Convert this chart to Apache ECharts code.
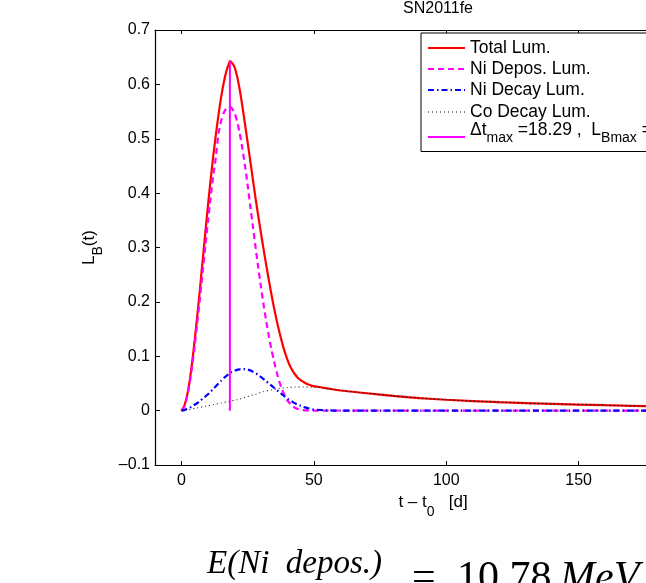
<!DOCTYPE html>
<html>
<head>
<meta charset="utf-8">
<script src="https://cdn.jsdelivr.net/npm/echarts@6/dist/echarts.min.js"></script>
<style>
html,body{margin:0;padding:0;background:#fff;}
#c{width:646px;height:583px;}
</style>
</head>
<body>
<div id="c"></div>
<script>
// ---- data ----
const tDays = [0,1,2,3,4,5,6,7,8,9,10,11,12,13,14,15,16,17,18,18.29,
  19,20,21,22,23,24,25,26,27,28,29,30,31,32,33,34,35,36,37,38,39,40,41,42,43,44,45,46,47,48,49,50,
  55,60,70,80,90,100,120,140,160,180,200];
const totalLum = [0,0.008,0.025,0.052,0.088,0.13,0.176,0.225,0.276,0.327,0.377,0.424,0.468,0.508,0.545,0.577,0.604,0.625,0.639,0.643,
  0.640,0.632,0.615,0.590,0.560,0.527,0.493,0.459,0.424,0.390,0.358,0.327,0.297,0.268,0.240,0.213,0.188,0.165,0.144,0.125,0.108,0.094,0.082,0.073,0.066,0.060,0.056,0.053,0.050,0.048,0.046,0.045,
  0.041,0.037,0.032,0.027,0.023,0.020,0.0155,0.0125,0.010,0.0078,0.006];
const niDepos = [0,0.007,0.023,0.048,0.081,0.12,0.163,0.208,0.255,0.302,0.348,0.392,0.432,0.467,0.51,0.533,0.548,0.556,0.558,0.558,
  0.556,0.548,0.532,0.51,0.482,0.45,0.414,0.376,0.338,0.30,0.263,0.228,0.195,0.165,0.137,0.112,0.09,0.07,0.053,0.039,0.028,0.019,0.013,0.008,0.005,0.003,0.002,0.001,0.0005,0,0,0,
  0,0,0,0,0,0,0,0,0,0,0];
const niDecay = [0,0.001,0.003,0.005,0.008,0.011,0.014,0.018,0.022,0.026,0.030,0.035,0.040,0.045,0.050,0.055,0.060,0.064,0.068,0.069,
  0.071,0.073,0.075,0.076,0.0765,0.0765,0.0755,0.074,0.0715,0.069,0.066,0.062,0.058,0.054,0.050,0.046,0.042,0.038,0.034,0.030,0.026,0.022,0.019,0.016,0.013,0.011,0.009,0.007,0.0055,0.004,0.003,0.002,
  0.0005,0,0,0,0,0,0,0,0,0,0];
const coDecay = [0,0.0005,0.001,0.002,0.003,0.004,0.005,0.006,0.007,0.008,0.009,0.010,0.011,0.012,0.013,0.014,0.015,0.016,0.017,0.0173,
  0.018,0.019,0.020,0.021,0.023,0.024,0.026,0.027,0.029,0.030,0.032,0.033,0.035,0.036,0.037,0.038,0.039,0.040,0.041,0.0415,0.042,0.0425,0.043,0.043,0.0435,0.0435,0.0435,0.0435,0.0435,0.043,0.043,0.043,
  0.0405,0.037,0.032,0.027,0.023,0.020,0.0155,0.0125,0.010,0.0078,0.006];
const tMax = 18.29;
const lBmax = 0.643;
const xTicks = [0, 50, 100, 150, 200];
const legendNames = ['Total Lum.', 'Ni Depos. Lum.', 'Ni Decay Lum.', 'Co Decay Lum.'];
const energyText = '10.78';

const zip = (xs, ys) => xs.map((x, i) => [x, ys[i]]);
const FONT = 'Liberation Sans, Arial, sans-serif';
const SERIF = 'Liberation Serif, serif';

const chart = echarts.init(document.getElementById('c'), null, {renderer: 'canvas'});

const fmtY = v => {
  const r = Math.round(v * 10) / 10;
  if (r === 0) return '0';
  return r.toFixed(1).replace('-', '\u2013');
};

const styles = [
  {color: '#ff0000', width: 2.2, type: 'solid'},
  {color: '#ff00ff', width: 2.2, type: [6, 4]},
  {color: '#0000ff', width: 2.2, type: [6, 3, 1.5, 3]},
  {color: '#000000', width: 1, type: [1, 3]}
];
const seriesData = [totalLum, niDepos, niDecay, coDecay];

const series = seriesData.map((ys, i) => ({
  type: 'line',
  name: legendNames[i],
  data: zip(tDays, ys),
  showSymbol: false,
  smooth: 0.25,
  lineStyle: styles[i],
  silent: true,
  z: 2 + i,
  animation: false
}));
series.push({
  type: 'line',
  name: 'dt',
  data: [[tMax, 0], [tMax, lBmax]],
  showSymbol: false,
  lineStyle: {color: '#ff00ff', width: 2},
  silent: true,
  z: 10,
  animation: false
});

// legend graphic
const legX = 421, legY = 33;
const legendChildren = [{
  type: 'rect',
  shape: {x: legX, y: legY, width: 260, height: 118.5},
  style: {fill: '#fff', stroke: '#000', lineWidth: 1},
  z: 100
}];
const legendRows = [48, 69, 90, 112, 130];
legendNames.forEach((n, i) => {
  legendChildren.push({
    type: 'line',
    shape: {x1: 428, y1: legendRows[i], x2: 465, y2: legendRows[i]},
    style: {stroke: styles[i].color, lineWidth: styles[i].width, lineDash: styles[i].type === 'solid' ? null : styles[i].type},
    z: 101
  });
  legendChildren.push({
    type: 'text',
    x: 470, y: legendRows[i],
    style: {text: n, font: '17.5px ' + FONT, fill: '#000', verticalAlign: 'middle', textAlign: 'left'},
    z: 101
  });
});
legendChildren.push({
  type: 'line',
  shape: {x1: 428, y1: 137, x2: 465, y2: 137},
  style: {stroke: '#ff00ff', lineWidth: 2},
  z: 101
});
legendChildren.push({
  type: 'text',
  x: 470, y: 130,
  style: {
    text: '{n|\u0394t}{s|max}{n| =' + tMax.toFixed(2) + ' ,  L}{s|Bmax}{n| =' + lBmax.toFixed(3) + '}',
    rich: {
      n: {fontSize: 17.5, fontFamily: FONT, fill: '#000', color: '#000'},
      s: {fontSize: 14, fontFamily: FONT, fill: '#000', color: '#000', padding: [16, 0, 0, 0]}
    },
    verticalAlign: 'middle', textAlign: 'left'
  },
  z: 101
});

const option = {
  animation: false,
  backgroundColor: '#fff',
  title: {
    text: 'SN2011fe',
    left: 433, top: -4, textAlign: 'center',
    textStyle: {fontFamily: FONT, fontSize: 16, fontWeight: 'normal', color: '#000'}
  },
  grid: {left: 155, top: 30, width: 556, height: 435, outerBoundsMode: 'none', containLabel: false},
  xAxis: [{
    type: 'value', min: -10, max: 200, position: 'bottom',
    axisLine: {show: true, onZero: false, lineStyle: {color: '#000', width: 1.2}},
    axisTick: {show: true, inside: true, length: 4, customValues: xTicks, lineStyle: {color: '#000'}},
    axisLabel: {show: true, customValues: xTicks, margin: 8, fontFamily: FONT, fontSize: 16, color: '#000'},
    splitLine: {show: false},
    name: '{n|t \u2013 t}{s|0}{n|   [d]}',
    nameLocation: 'middle', nameGap: 9,
    nameTextStyle: {
      rich: {
        n: {fontSize: 17, fontFamily: FONT, color: '#000'},
        s: {fontSize: 14, fontFamily: FONT, color: '#000', padding: [20, 0, 0, 0]}
      }
    }
  }, {
    type: 'value', min: -10, max: 200, position: 'top',
    axisLine: {show: true, onZero: false, lineStyle: {color: '#000', width: 1.2}},
    axisTick: {show: true, inside: true, length: 4, customValues: xTicks, lineStyle: {color: '#000'}},
    axisLabel: {show: false},
    splitLine: {show: false}
  }],
  yAxis: [{
    type: 'value', min: -0.1, max: 0.7, interval: 0.1, position: 'left',
    axisLine: {show: true, onZero: false, lineStyle: {color: '#000', width: 1.2}},
    axisTick: {show: true, inside: true, length: 5, lineStyle: {color: '#000'}},
    axisLabel: {formatter: fmtY, margin: 5, fontFamily: FONT, fontSize: 16, color: '#000'},
    splitLine: {show: false},
    name: '{n|L}{s|B}{n|(t)}',
    nameLocation: 'middle', nameGap: 50, nameRotate: 90,
    nameTextStyle: {
      rich: {
        n: {fontSize: 17, fontFamily: FONT, color: '#000'},
        s: {fontSize: 14, fontFamily: FONT, color: '#000', padding: [18, 0, 0, 0]}
      }
    }
  }, {
    type: 'value', min: -0.1, max: 0.7, interval: 0.1, position: 'right',
    axisLine: {show: true, onZero: false, lineStyle: {color: '#000', width: 1.2}},
    axisTick: {show: true, inside: true, length: 5},
    axisLabel: {show: false},
    splitLine: {show: false}
  }],
  series: series,
  graphic: [{
    type: 'group',
    children: legendChildren
  }, {
    type: 'text',
    x: 207, y: 548,
    style: {text: 'E(Ni  depos.)', font: 'italic 33px ' + SERIF, fill: '#000'},
    z: 100
  }, {
    type: 'text',
    x: 412, y: 558,
    style: {text: '=', font: '42px ' + SERIF, fill: '#000'},
    z: 100
  }, {
    type: 'text',
    x: 457, y: 558,
    style: {text: energyText, font: '42px ' + SERIF, fill: '#000'},
    z: 100
  }, {
    type: 'text',
    x: 560, y: 558,
    style: {text: 'MeV', font: 'italic 42px ' + SERIF, fill: '#000'},
    z: 100
  }]
};
chart.setOption(option);
</script>
</body>
</html>
